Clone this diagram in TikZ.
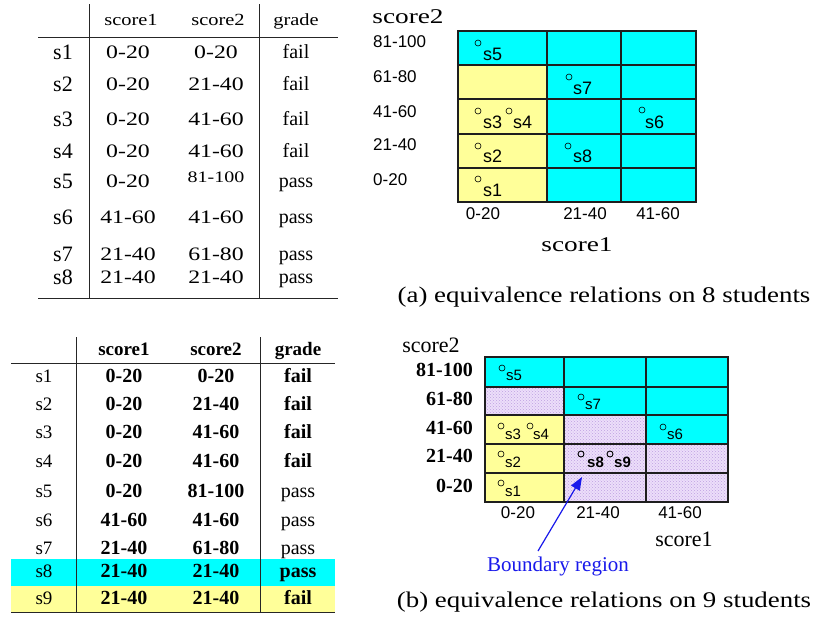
\documentclass[tikz,border=0pt]{standalone}
\usepackage{fontspec}
\setmainfont{Liberation Serif}
\newfontfamily\serifW[FakeStretch=1.2]{Liberation Serif}
\newfontfamily\serifN[FakeStretch=1.25]{Liberation Serif}
\newfontfamily\serifX[FakeStretch=1.3]{Liberation Serif}
\newfontfamily\sansA{Liberation Sans}
\usetikzlibrary{arrows.meta,patterns}
\definecolor{cy}{RGB}{0,255,255}
\definecolor{ye}{RGB}{255,255,153}
\definecolor{lav}{RGB}{236,222,250}
\definecolor{lavdot}{RGB}{190,160,225}
\definecolor{gridc}{RGB}{30,30,30}
\definecolor{bblue}{RGB}{25,25,235}
\newcommand{\fsz}[1]{\fontsize{#1}{#1}\selectfont}
\tikzset{
  txt/.style={inner sep=0pt, text depth=0pt},
  thA/.style={txt, font=\serifW\fsz{17}, text height=11.6pt},
  trA/.style={txt, font=\fsz{22}, text height=15pt},
  tnA/.style={txt, font=\serifN\fsz{19}, text height=12.9pt},
  tnAs/.style={txt, font=\serifN\fsz{16}, text height=10.9pt},
  tgA/.style={txt, font=\fsz{20}, text height=13.6pt},
  thB/.style={txt, font=\bfseries\fsz{19}, text height=12.9pt},
  trB/.style={txt, font=\fsz{19}, text height=12.9pt},
  tnB/.style={txt, font=\bfseries\fsz{20}, text height=13.6pt},
  tgB/.style={txt, font=\fsz{20}, text height=13.6pt},
  tgBb/.style={txt, font=\bfseries\fsz{20}, text height=13.6pt},
  tline/.style={line width=0.9pt, black!85},
  gline/.style={line width=1.4pt, gridc},
  axA/.style={txt, font=\sansA\fsz{17}, text height=12.2pt},
  axnameA/.style={txt, font=\serifX\fsz{21}, text height=14.3pt},
  axB/.style={txt, font=\bfseries\fsz{20}, text height=13.6pt},
  axBc/.style={txt, font=\sansA\fsz{17}, text height=12.2pt},
  axnameB/.style={txt, font=\fsz{22}, text height=15pt},
  mk/.style={circle, draw, inner sep=0pt, minimum size=6pt, line width=0.6pt},
  stA/.style={txt, anchor=west, font=\sansA\fsz{18}, text height=12.9pt},
  stB/.style={txt, anchor=west, font=\sansA\fsz{15}, text height=10.7pt},
  stBb/.style={txt, anchor=west, font=\sansA\bfseries\fsz{15}, text height=10.7pt},
  captext/.style={inner sep=0pt, anchor=base, font=\serifW\fsz{22.4}},
  bndtext/.style={txt, font=\fsz{21}, text height=14.3pt, text=bblue},
  barrow/.style={bblue, line width=1.2pt, -{Triangle[length=13pt,width=10pt]}},
  laven/.style={fill=lav},
  lavdots/.style={pattern=crosshatch dots, pattern color=lavdot}
}
\begin{document}
\begin{tikzpicture}[x=1pt,y=-1pt]
\useasboundingbox (0,0) rectangle (813,627);
\fill[white] (0,0) rectangle (813,627);

% ---------- top table ----------
\draw[tline] (89,4) -- (89,298);
\draw[tline] (259,4) -- (259,298);
\draw[tline] (38,37) -- (338,37);
\draw[tline] (38,298) -- (338,298);
\node[thA] (ah1) at (131,20) {score1};
\node[thA] (ah2) at (218,20) {score2};
\node[thA] (ah3) at (296,20) {grade};
\foreach \n/\a/\b/\g/\y in {1/0-20/0-20/fail/52, 2/0-20/21-40/fail/84, 3/0-20/41-60/fail/119, 4/0-20/41-60/fail/151, 6/41-60/41-60/pass/217, 7/21-40/61-80/pass/254, 8/21-40/21-40/pass/277}{
  \node[trA] (ar\n) at (63,\y) {s\n};
  \node[tnA] (aa\n) at (128,\y) {\a};
  \node[tnA] (ab\n) at (216,\y) {\b};
  \node[tgA] (ag\n) at (296,\y) {\g};
}
\node[trA] (ar5) at (63,181) {s5};
\node[tnA] (aa5) at (128,181) {0-20};
\node[tnAs] (ab5) at (216,177) {81-100};
\node[tgA] (ag5) at (296,181) {pass};

% ---------- top grid ----------
\fill[cy] (458,31) rectangle (696,202);
\fill[ye] (458,65) rectangle (547,202);
\draw[gline] (458,31) rectangle (696,202);
\foreach \x in {547,621} \draw[gline] (\x,31) -- (\x,202);
\foreach \y in {65,99,134,168} \draw[gline] (458,\y) -- (696,\y);
\node[axnameA] (as2) at (408,16) {score2};
\node[axnameA] (as1) at (577,244) {score1};
\node[axA, anchor=west] (ay1) at (373,41) {81-100};
\node[axA, anchor=west] (ay2) at (373,76) {61-80};
\node[axA, anchor=west] (ay3) at (373,111) {41-60};
\node[axA, anchor=west] (ay4) at (373,144) {21-40};
\node[axA, anchor=west] (ay5) at (373,179) {0-20};
\node[axA] (ax1) at (483,213) {0-20};
\node[axA] (ax2) at (585,213) {21-40};
\node[axA] (ax3) at (658,213) {41-60};
\node[mk] (am5) at (478,43) {};  \node[stA] (at5) at (483,54) {s5};
\node[mk] (am7) at (569,77) {};  \node[stA] (at7) at (573,88) {s7};
\node[mk] (am3) at (478,111) {}; \node[stA] (at3) at (483,122) {s3};
\node[mk] (am4) at (509,111) {}; \node[stA] (at4) at (513,122) {s4};
\node[mk] (am6) at (642,110) {}; \node[stA] (at6) at (645,122) {s6};
\node[mk] (am2) at (478,146) {}; \node[stA] (at2) at (483,156) {s2};
\node[mk] (am8) at (568,146) {}; \node[stA] (at8) at (573,156) {s8};
\node[mk] (am1) at (478,179) {}; \node[stA] (at1) at (483,190) {s1};
\node[captext] (capa) at (604,302) {(a) equivalence relations on 8 students};

% ---------- bottom table ----------
\fill[cy] (11,559) rectangle (335,586);
\fill[ye] (11,586) rectangle (335,612);
\draw[tline] (76,337) -- (76,612);
\draw[tline] (260,337) -- (260,612);
\draw[tline] (11,363) -- (335,363);
\draw[tline] (11,612) -- (335,612);
\node[thB] (bh1) at (124,349) {score1};
\node[thB] (bh2) at (216,349) {score2};
\node[thB] (bh3) at (298,349) {grade};
\foreach \n/\a/\b/\y in {1/0-20/0-20/376, 2/0-20/21-40/404, 3/0-20/41-60/432, 4/0-20/41-60/461}{
  \node[trB] (br\n) at (44,\y) {s\n};
  \node[tnB] (ba\n) at (124,\y) {\a};
  \node[tnB] (bb\n) at (216,\y) {\b};
  \node[tgBb] (bg\n) at (298,\y) {fail};
}
\foreach \n/\a/\b/\y in {5/0-20/81-100/491, 6/41-60/41-60/520, 7/21-40/61-80/548}{
  \node[trB] (br\n) at (44,\y) {s\n};
  \node[tnB] (ba\n) at (124,\y) {\a};
  \node[tnB] (bb\n) at (216,\y) {\b};
  \node[tgB] (bg\n) at (298,\y) {pass};
}
\node[trB] (br8) at (44,571) {s8};
\node[tnB] (ba8) at (124,571) {21-40};
\node[tnB] (bb8) at (216,571) {21-40};
\node[tgBb] (bg8) at (298,571) {pass};
\node[trB] (br9) at (44,598) {s9};
\node[tnB] (ba9) at (124,598) {21-40};
\node[tnB] (bb9) at (216,598) {21-40};
\node[tgBb] (bg9) at (298,598) {fail};

% ---------- bottom grid ----------
\fill[cy] (485,357) rectangle (728,502);
\fill[ye] (485,415) rectangle (564,502);
\foreach \p/\q in {{485,387}/{564,415}, {564,415}/{646,502}, {646,444}/{728,502}}{
  \fill[laven] (\p) rectangle (\q);
  \fill[lavdots] (\p) rectangle (\q);
}
\draw[gline] (485,357) rectangle (728,502);
\foreach \x in {564,646} \draw[gline] (\x,357) -- (\x,502);
\foreach \y in {387,415,444,473} \draw[gline] (485,\y) -- (728,\y);
\node[axnameB] (bs2) at (431,345) {score2};
\node[axnameB] (bs1) at (684,539) {score1};
\node[axB, anchor=east] (by1) at (473,370) {81-100};
\node[axB, anchor=east] (by2) at (473,399) {61-80};
\node[axB, anchor=east] (by3) at (473,428) {41-60};
\node[axB, anchor=east] (by4) at (473,456) {21-40};
\node[axB, anchor=east] (by5) at (473,486) {0-20};
\node[axBc] (bx1) at (518,512) {0-20};
\node[axBc] (bx2) at (598,512) {21-40};
\node[axBc] (bx3) at (680,512) {41-60};
\node[mk] (bm5) at (502,368) {}; \node[stB] (bt5) at (506,375) {s5};
\node[mk] (bm7) at (581,397) {}; \node[stB] (bt7) at (585,404) {s7};
\node[mk] (bm3) at (501,426) {}; \node[stB] (bt3) at (505,434) {s3};
\node[mk] (bm4) at (530,426) {}; \node[stB] (bt4) at (533,434) {s4};
\node[mk] (bm6) at (663,427) {}; \node[stB] (bt6) at (667,434) {s6};
\node[mk] (bm2) at (501,454) {}; \node[stB] (bt2) at (505,462) {s2};
\node[mk, line width=0.9pt] (bm8) at (581,454) {}; \node[stBb] (bt8) at (587,462) {s8};
\node[mk, line width=0.9pt] (bm9) at (610,454) {}; \node[stBb] (bt9) at (614,462) {s9};
\node[mk] (bm1) at (501,483) {}; \node[stB] (bt1) at (505,491) {s1};
\node[bndtext] (bnd) at (558,564) {Boundary region};
\coordinate (bstart) at (538,551);
\coordinate (btip) at (582,477);
\draw[barrow] (bstart) -- (btip);
\node[captext] (capb) at (604,607) {(b) equivalence relations on 9 students};
\end{tikzpicture}
\end{document}
